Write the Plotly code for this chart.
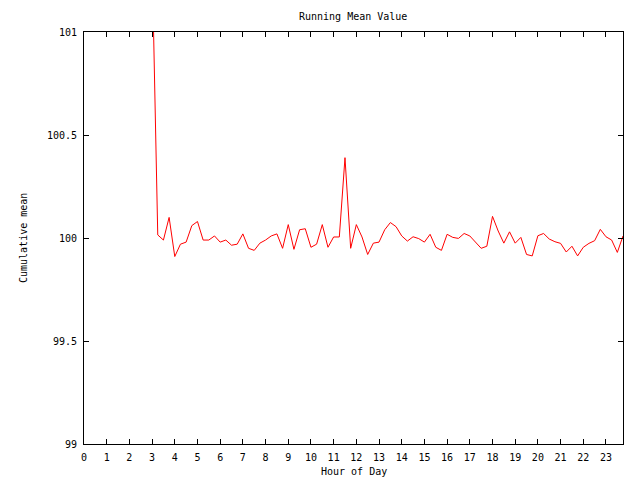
import plotly.graph_objects as go

hours = [3.0 + 0.25 * i for i in range(84)]
running_mean = [
    101.35, 100.015, 99.99, 100.10, 99.91, 99.97, 99.98, 100.06, 100.08, 99.99,
    99.99, 100.01, 99.98, 99.99, 99.965, 99.97, 100.02, 99.95, 99.94, 99.975,
    99.99, 100.01, 100.02, 99.95, 100.065, 99.945, 100.04, 100.045, 99.955, 99.97,
    100.065, 99.955, 100.005, 100.005, 100.39, 99.95, 100.065, 100.005, 99.92, 99.975,
    99.98, 100.04, 100.075, 100.055, 100.01, 99.985, 100.006, 99.997, 99.98, 100.018,
    99.955, 99.94, 100.018, 100.003, 99.998, 100.022, 100.01, 99.98, 99.95, 99.96,
    100.105, 100.034, 99.975, 100.03, 99.975, 100.003, 99.92, 99.913, 100.011, 100.022,
    99.995, 99.982, 99.974, 99.932, 99.96, 99.913, 99.955, 99.974, 99.987, 100.042,
    100.006, 99.99, 99.93, 100.01,
]
x_ticks = list(range(24))
y_ticks = [99, 99.5, 100, 100.5, 101]
y_tick_text = ["99", "99.5", "100", "100.5", "101"]

FONT = "DejaVu Sans Mono"

fig = go.Figure()
fig.add_trace(go.Scatter(
    x=hours, y=running_mean, mode="lines",
    line=dict(color="#ff0000", width=1),
    showlegend=False, cliponaxis=True,
))

axis_common = dict(
    showline=True, linecolor="black", linewidth=1, mirror="allticks",
    ticks="inside", ticklen=5, tickcolor="black", tickwidth=1,
    showgrid=False, zeroline=False,
    tickfont=dict(family=FONT, size=10, color="black"),
)

fig.update_layout(
    width=640, height=480,
    margin=dict(l=84, r=17, t=32, b=36),
    paper_bgcolor="white", plot_bgcolor="white",
    font=dict(family=FONT, size=10, color="black"),
    xaxis=dict(range=[0, 23.75], tickvals=x_ticks, ticktext=[str(v) for v in x_ticks],
               ticklabelstandoff=4, **axis_common),
    yaxis=dict(range=[99, 101], tickvals=y_ticks, ticktext=y_tick_text,
               ticklabelstandoff=4, **axis_common),
    annotations=[
        dict(text="Running Mean Value", x=353, y=16, xref="paper", yref="paper",
             showarrow=False, font=dict(family=FONT, size=10)),
        dict(text="Hour of Day", x=354, y=471, xref="paper", yref="paper",
             showarrow=False, font=dict(family=FONT, size=10)),
        dict(text="Cumulative mean", x=23, y=238, xref="paper", yref="paper",
             showarrow=False, textangle=-90, font=dict(family=FONT, size=10)),
    ],
)

# convert pixel positions of annotations into paper coordinates
pw = 640 - 84 - 17
ph = 480 - 32 - 36
for a in fig.layout.annotations:
    px, py = a.x, a.y
    a.x = (px - 84) / pw
    a.y = 1 - (py - 32) / ph
    a.xanchor = "center"
    a.yanchor = "middle"

fig.write_html("out.html")
